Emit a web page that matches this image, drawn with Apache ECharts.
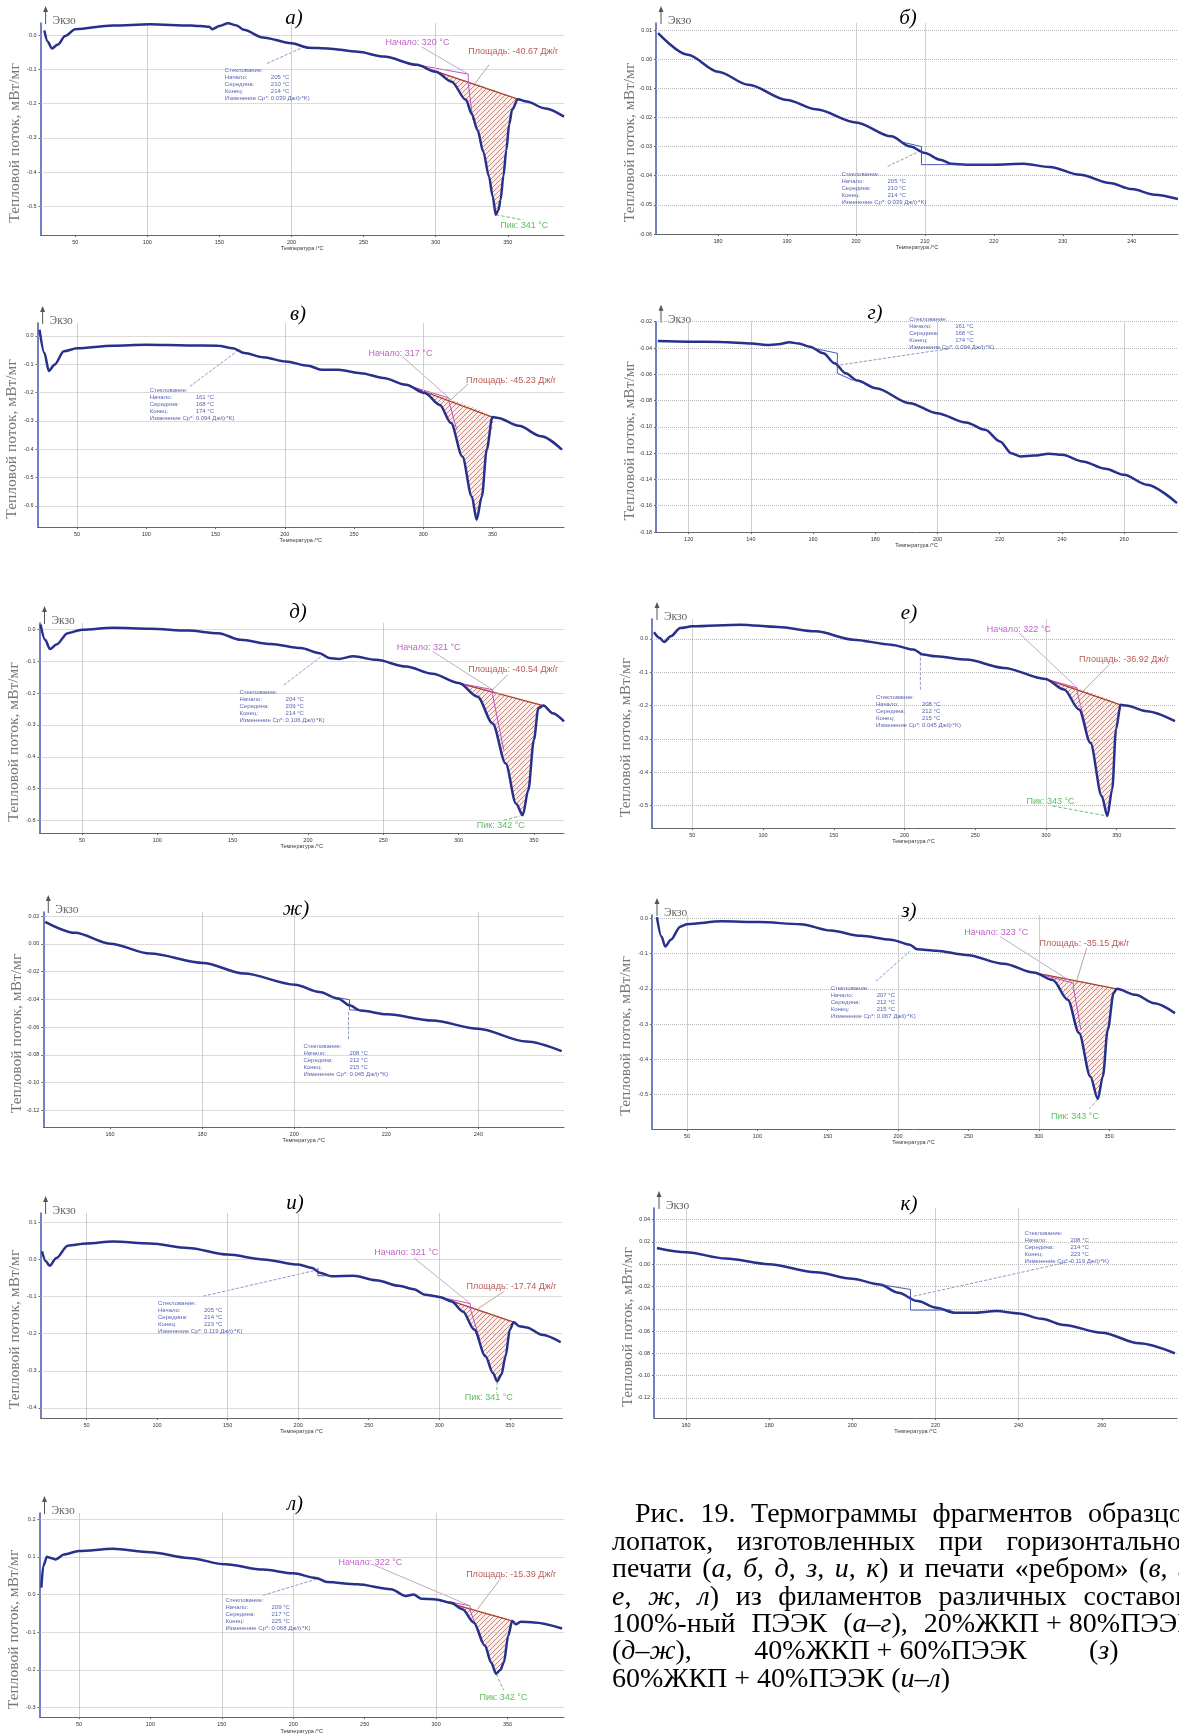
<!DOCTYPE html>
<html>
<head>
<meta charset="utf-8">
<script src="https://cdn.jsdelivr.net/npm/echarts@6.0.0/dist/echarts.min.js"></script>
<style>
html, body { margin: 0; padding: 0; background: #fff; }
#chart { width: 1179px; height: 1735px; }
</style>
</head>
<body>
<div id="chart"></div>
<script>
// ---- curves: temperature (°C) and heat flow (mW/mg) ----
const tA = [28.6, 31, 33.8, 38, 43, 50, 76, 102, 130, 143, 145, 150, 156, 162, 167, 180, 200, 212, 225, 246, 264, 287, 300, 311, 321, 325, 329, 333, 337, 339.5, 341.7, 343.5, 345, 347, 349, 351, 353, 357, 363, 376, 389];
const hA = [0.013, -0.02, -0.039, -0.028, -0.003, 0.017, 0.028, 0.031, 0.028, 0.024, 0.017, 0.026, 0.034, 0.028, 0.015, -0.007, -0.024, -0.037, -0.039, -0.049, -0.063, -0.087, -0.107, -0.136, -0.189, -0.23, -0.277, -0.34, -0.413, -0.47, -0.524, -0.51, -0.481, -0.41, -0.335, -0.26, -0.218, -0.187, -0.194, -0.214, -0.238];

const tB = [171.3, 175.6, 180, 184.4, 190, 194.2, 200, 205.1, 207.9, 210, 212.2, 213.8, 216, 220, 224.3, 228.1, 232.5, 236.8, 240, 243.3, 246.7];
const hB = [0.0089, 0.0015, -0.0043, -0.0088, -0.014, -0.0172, -0.0217, -0.0265, -0.030, -0.0322, -0.0345, -0.0359, -0.0362, -0.0362, -0.0359, -0.037, -0.0397, -0.0425, -0.0446, -0.0465, -0.048];

const tC = [22.9, 26.4, 29.6, 33.7, 40.5, 50, 75.8, 100, 130, 151.8, 162.6, 170.8, 184.4, 200.7, 216.9, 226.4, 238.7, 254.9, 271.2, 287.5, 301, 311.9, 320, 328.2, 335, 338.5, 342.3, 345.8, 349.9, 354, 368.9, 385.2, 400.1];
const hC = [0.021, -0.061, -0.124, -0.102, -0.055, -0.044, -0.035, -0.032, -0.034, -0.035, -0.044, -0.061, -0.076, -0.091, -0.106, -0.12, -0.12, -0.132, -0.149, -0.173, -0.202, -0.244, -0.308, -0.426, -0.567, -0.649, -0.567, -0.402, -0.287, -0.29, -0.318, -0.355, -0.402];

const tD = [110.1, 120, 130.6, 140.3, 145.1, 148.8, 152.4, 155.4, 159, 163.3, 166.9, 170.5, 174.2, 180.2, 191.1, 199.8, 209.2, 215.3, 220.1, 223.7, 226.8, 231, 235.8, 240.1, 246.7, 254, 260, 267.3, 277];
const hD = [-0.0347, -0.0352, -0.0354, -0.0365, -0.0377, -0.0372, -0.0357, -0.0365, -0.039, -0.044, -0.0516, -0.0592, -0.0648, -0.0706, -0.082, -0.0896, -0.0967, -0.1023, -0.1111, -0.12, -0.1225, -0.1218, -0.1205, -0.1213, -0.1263, -0.1319, -0.1365, -0.144, -0.158];

const tE = [22.5, 25.5, 28.8, 33, 40.5, 50, 70.5, 95.4, 120.4, 140.4, 155.3, 175.3, 195.3, 207.8, 214, 220.2, 230.2, 245.2, 265.2, 282.7, 300.2, 312.6, 322.6, 331.3, 338.1, 342.6, 346.3, 350, 353, 356.3, 362.5, 370];
const hE = [0.016, -0.032, -0.061, -0.047, -0.011, 0, 0.006, 0.003, -0.003, -0.011, -0.032, -0.045, -0.058, -0.074, -0.089, -0.092, -0.084, -0.095, -0.116, -0.139, -0.168, -0.211, -0.295, -0.421, -0.547, -0.584, -0.505, -0.347, -0.247, -0.239, -0.263, -0.289];

const tF = [22.9, 26.9, 30.1, 34.8, 41.5, 50, 84, 110.6, 137.2, 163.8, 190.4, 206.4, 213, 222.3, 243.6, 270.2, 299.5, 312.8, 323.4, 331.4, 339.4, 343.4, 346.8, 349.5, 352.7, 356.6, 371.3, 391.2];
const hF = [0.02, 0.003, -0.009, 0.008, 0.033, 0.038, 0.043, 0.036, 0.023, -0.002, -0.017, -0.032, -0.047, -0.052, -0.062, -0.087, -0.12, -0.152, -0.212, -0.312, -0.472, -0.532, -0.452, -0.272, -0.198, -0.2, -0.217, -0.247];

const tG = [145.9, 152.4, 160, 168.7, 180.2, 189.1, 200.2, 205.5, 209.6, 212, 214.4, 220.2, 230, 239.9, 250.4, 258.1];
const hG = [0.0159, 0.008, 0.0002, -0.007, -0.0137, -0.0214, -0.0294, -0.0347, -0.0395, -0.0443, -0.048, -0.0508, -0.0552, -0.0612, -0.0704, -0.0773];

const tH = [28.6, 31.8, 34.5, 38.5, 45.2, 50, 74.6, 101.3, 130.7, 152.1, 173.5, 194.9, 208.3, 213.6, 227, 248.4, 275.1, 296.5, 309.9, 320.6, 328.6, 336.6, 342, 345.5, 349, 353.2, 355.3, 368.7, 382.1, 396.8];
const hH = [0.003, -0.052, -0.08, -0.061, -0.024, -0.017, -0.009, -0.011, -0.017, -0.035, -0.05, -0.061, -0.075, -0.088, -0.092, -0.104, -0.129, -0.154, -0.175, -0.231, -0.325, -0.448, -0.512, -0.448, -0.316, -0.212, -0.2, -0.217, -0.241, -0.269];

const tI = [18.5, 21.2, 23.9, 28.7, 36.7, 50, 68.7, 95.3, 122, 150, 175.3, 200.1, 210, 215.3, 223.3, 239.3, 255.3, 271.3, 282, 290, 300.1, 308.7, 316.7, 324.7, 332.7, 338, 341, 344, 347, 350, 352.7, 356.7, 362, 372.7, 386];
const hI = [0.022, -0.005, -0.017, 0.004, 0.037, 0.043, 0.048, 0.043, 0.031, 0.013, 0, -0.014, -0.023, -0.036, -0.045, -0.044, -0.056, -0.071, -0.08, -0.095, -0.101, -0.113, -0.14, -0.189, -0.261, -0.306, -0.328, -0.31, -0.26, -0.189, -0.169, -0.18, -0.183, -0.203, -0.223];

const tJ = [153, 160, 169.5, 179.9, 191.2, 200, 206.6, 211.1, 215.7, 220.2, 224.7, 229.2, 234.7, 240.1, 245.5, 250.9, 260, 269, 277.6];
const hJ = [0.0146, 0.0107, 0.0051, 0, -0.0072, -0.0131, -0.0182, -0.0257, -0.0331, -0.0391, -0.0436, -0.0436, -0.0421, -0.0442, -0.049, -0.0546, -0.0615, -0.071, -0.08];

const tK = [23.7, 25, 27.6, 30.3, 33.7, 39.5, 50, 73.7, 100, 126.3, 152.6, 178.9, 200, 215.8, 223.7, 244.7, 268.4, 278.9, 284.2, 289.5, 300, 310.5, 318.4, 326.3, 334.2, 338.5, 342, 345, 347.4, 350.5, 353.2, 355.8, 359.2, 368.4, 388.2];
const hK = [0.018, 0.075, 0.1, 0.097, 0.093, 0.106, 0.115, 0.121, 0.112, 0.097, 0.08, 0.066, 0.056, 0.044, 0.033, 0.027, 0.014, -0.004, 0, -0.011, -0.013, -0.022, -0.039, -0.074, -0.136, -0.18, -0.21, -0.2, -0.18, -0.109, -0.07, -0.079, -0.072, -0.074, -0.09];

// ---- tick labels ----
const xt50 = [50, 100, 150, 200, 250, 300, 350];
const xtB = [180, 190, 200, 210, 220, 230, 240];
const xtG = [120, 140, 160, 180, 200, 220, 240, 260];
const xtZh = [160, 180, 200, 220, 240];
const xtK = [160, 180, 200, 220, 240, 260];
const yt5 = [0, -0.1, -0.2, -0.3, -0.4, -0.5];
const yt6 = [0, -0.1, -0.2, -0.3, -0.4, -0.5, -0.6];
const ytB = [0.01, 0, -0.01, -0.02, -0.03, -0.04, -0.05, -0.06];
const ytG = [-0.02, -0.04, -0.06, -0.08, -0.10, -0.12, -0.14, -0.16, -0.18];
const ytZh = [0.02, 0, -0.02, -0.04, -0.06, -0.08, -0.10, -0.12];
const ytI = [0.1, 0, -0.1, -0.2, -0.3, -0.4];
const ytK = [0.04, 0.02, 0, -0.02, -0.04, -0.06, -0.08, -0.10, -0.12];
const ytL = [0.2, 0.1, 0, -0.1, -0.2, -0.3];

// ---- glass transition readouts: onset, middle, end, ΔCp ----
const glassA = ['205', '210', '214', '0.039'];
const glassB = ['205', '210', '214', '0.039'];
const glassC = ['161', '168', '174', '0.094'];
const glassD = ['161', '168', '174', '0.094'];
const glassE = ['204', '209', '214', '0.106'];
const glassF = ['208', '212', '215', '0.045'];
const glassG = ['208', '212', '215', '0.045'];
const glassH = ['207', '212', '215', '0.067'];
const glassI = ['205', '214', '223', '0.119'];
const glassJ = ['208', '214', '223', '0.119'];
const glassK = ['209', '217', '225', '0.068'];

// ---- melting peak readouts: onset, area, peak ----
const onsetT = [320, null, 317, null, 321, 322, null, 323, 321, null, 322];
const areaJ = ['-40.67', null, '-45.23', null, '-40.54', '-36.92', null, '-35.15', '-17.74', null, '-15.39'];
const peakT = [341, null, null, null, 342, 343, null, 343, 341, null, 342];

// caption; words are split on ordinary spaces, non-breaking spaces keep "x + y" together
const caption = [
  'Рис. 19. Термограммы фрагментов образцов',
  'лопаток, изготовленных при горизонтальной',
  'печати (*а*, *б*, *д*, *з*, *и*, *к*) и печати «ребром» (*в*, *г*,',
  '*е*, *ж*, *л*) из филаментов различных составов:',
  '100%-ный ПЭЭК (*а–г*), 20%ЖКП\u00a0+\u00a080%ПЭЭК',
  '(*д–ж*), 40%ЖКП\u00a0+\u00a060%ПЭЭК (*з*) и',
  '60%ЖКП + 40%ПЭЭК (*и–л*)'
];

// ---- layout of the panels (pixel boxes, axis ranges, annotation anchors in data units) ----
const panels = [
  { t: tA, h: hA, box: [40.6, 23, 564, 235], x: [26, 389], y: [-0.583, 0.035], xt: xt50, yt: yt5, dec: 1, vg: [100, 200, 300], letter: 'а)', lp: [294, 18], glass: glassA,
    gAt: [153.8, -0.092], gLead: [[183, -0.083], [209, -0.034]],
    area: [287, 357], onLine: [[287, -0.087], [322.6, -0.114], [322.6, -0.143], [325.9, -0.248]], onAt: [265.2, -0.022], onLead: [[290, -0.034], [322.6, -0.114]],
    arAt: [322.6, -0.049], arLead: [[337, -0.087], [327, -0.143]], pkAt: [344.8, -0.556], pkLead: [[341.7, -0.524], [360.5, -0.539]] },
  { t: tB, h: hB, box: [656, 23, 1178, 234], x: [171, 246.7], y: [-0.06, 0.0124], xt: xtB, yt: ytB, dec: 2, vg: [200, 210], letter: 'б)', lp: [908, 18], glass: glassB,
    gAt: [197.9, -0.0382], gLead: [[204.6, -0.0368], [209.5, -0.0313]], gMark: [[206.2, -0.0282], [209.5, -0.03], [209.5, -0.0362], [219.9, -0.0362]] },
  { t: tC, h: hC, box: [37.6, 323, 564, 527], x: [21.5, 401.6], y: [-0.675, 0.045], xt: xt50, yt: yt6, dec: 1, vg: [50, 200, 300], letter: 'в)', lp: [298, 314], glass: glassC,
    gAt: [102.4, -0.182], gLead: [[131.4, -0.179], [165.4, -0.055]],
    area: [287.5, 349.9], onLine: [[287.5, -0.173], [318.7, -0.22], [318.7, -0.235], [324.2, -0.332]], onAt: [260.4, -0.061], onLead: [[284.8, -0.073], [318.7, -0.22]],
    arAt: [330.9, -0.158], arLead: [[332.3, -0.17], [320, -0.226]] },
  { t: tD, h: hD, box: [656, 321.7, 1177, 532], x: [109.5, 277], y: [-0.18, -0.02], xt: xtG, yt: ytG, dec: 2, vg: [120, 140, 200, 260], letter: 'г)', lp: [875, 313], glass: glassD,
    gAt: [190.9, -0.0157], gLead: [[168.7, -0.0529], [204.4, -0.0403]], gMark: [[160.3, -0.0403], [167.8, -0.044], [167.8, -0.0592], [173, -0.0648]] },
  { t: tE, h: hE, box: [39.5, 623, 564, 833], x: [21.8, 370], y: [-0.64, 0.021], xt: xt50, yt: yt6, dec: 1, vg: [50, 250], letter: 'д)', lp: [298, 612], glass: glassE,
    gAt: [154.6, -0.186], gLead: [[184, -0.174], [210.3, -0.079]],
    area: [300.2, 356.3], onLine: [[300.2, -0.168], [322.6, -0.189], [322.6, -0.205], [330, -0.379]], onAt: [258.9, -0.055], onLead: [[282.7, -0.068], [322.6, -0.189]],
    arAt: [306.4, -0.126], arLead: [[332.6, -0.142], [321.3, -0.195]], pkAt: [312.1, -0.616], pkLead: [[342.6, -0.584], [330, -0.6]] },
  { t: tF, h: hF, box: [652, 619, 1175, 828], x: [21.5, 391.2], y: [-0.568, 0.06], xt: xt50, yt: yt5, dec: 1, vg: [50, 200, 300], letter: 'е)', lp: [909, 613], glass: glassF,
    gAt: [179.8, -0.165], gLead: [[211.2, -0.042], [211.2, -0.157]],
    area: [299.5, 352.7], onLine: [[299.5, -0.12], [322.1, -0.147], [322.1, -0.16], [328.7, -0.272]], onAt: [258.2, 0.028], onLead: [[280.9, 0.018], [322.1, -0.147]],
    arAt: [323.4, -0.062], arLead: [[344.7, -0.077], [326.1, -0.157]], pkAt: [286.2, -0.487], pkLead: [[304.8, -0.502], [343.4, -0.532]] },
  { t: tG, h: hG, box: [43.3, 912, 564, 1127], x: [145.5, 258.6], y: [-0.132, 0.023], xt: xtZh, yt: ytZh, dec: 2, vg: [180, 200, 240], letter: 'ж)', lp: [296, 909], glass: glassG,
    gAt: [202, -0.0716], gLead: [[211.8, -0.0492], [211.8, -0.0696]], gMark: [[207.9, -0.0378], [212, -0.0402], [212, -0.0475], [214.4, -0.048]] },
  { t: tH, h: hH, box: [652, 915, 1175, 1129], x: [25.1, 396.8], y: [-0.597, 0.009], xt: xt50, yt: yt5, dec: 1, vg: [50, 200, 300], letter: 'з)', lp: [909, 911], glass: glassH,
    gAt: [152.1, -0.189], gLead: [[184.2, -0.179], [208.3, -0.094]],
    area: [296.5, 355.3], onLine: [[296.5, -0.154], [324.6, -0.184], [324.6, -0.196], [330, -0.316]], onAt: [247.1, -0.041], onLead: [[272.5, -0.052], [324.6, -0.184]],
    arAt: [300.5, -0.073], arLead: [[334, -0.085], [326, -0.189]], pkAt: [308.6, -0.561], pkLead: [[342, -0.512], [336, -0.54]] },
  { t: tI, h: hI, box: [40.6, 1213, 562.5, 1418], x: [17.5, 387.3], y: [-0.427, 0.125], xt: xt50, yt: ytI, dec: 1, vg: [50, 150, 200, 300], letter: 'и)', lp: [295, 1203], glass: glassI,
    gAt: [100.7, -0.108], gLead: [[132.7, -0.099], [212.7, -0.029]], gMark: [[214, -0.023], [214, -0.044], [223.3, -0.044]],
    area: [300.1, 352.7], onLine: [[300.1, -0.101], [322, -0.119], [322, -0.133], [328.7, -0.216]], onAt: [254, 0.019], onLead: [[282, 0.004], [322, -0.119]],
    arAt: [319.3, -0.074], arLead: [[346, -0.086], [327.3, -0.133]], pkAt: [318, -0.373], pkLead: [[341, -0.328], [340.7, -0.36]] },
  { t: tJ, h: hJ, box: [654, 1208, 1177, 1418], x: [152.3, 278.1], y: [-0.138, 0.0504], xt: xtK, yt: ytK, dec: 2, vg: [160, 220, 240], letter: 'к)', lp: [909, 1204], glass: glassJ,
    gAt: [241.4, 0.0304], gLead: [[214.8, -0.0287], [252.8, 0.0027]], gMark: [[206.6, -0.0182], [214, -0.0227], [214, -0.0412], [223.8, -0.0412]] },
  { t: tK, h: hK, box: [39.5, 1513, 564, 1718], x: [22.4, 389.5], y: [-0.325, 0.216], xt: xt50, yt: ytL, dec: 1, vg: [50, 150, 200, 300], letter: 'л)', lp: [295, 1504], glass: glassK,
    gAt: [152.6, -0.007], gLead: [[178.9, -0.002], [215.8, 0.04]],
    area: [300, 353.2], onLine: [[300, -0.013], [323.7, -0.03], [323.7, -0.04], [331.6, -0.127]], onAt: [231.6, 0.084], onLead: [[255.3, 0.08], [323.7, -0.03]],
    arAt: [321, 0.053], arLead: [[344.7, 0.04], [328.9, -0.039]], pkAt: [330.3, -0.272], pkLead: [[342, -0.21], [347.4, -0.254]] }
];

const SANS = '"Liberation Sans", Arial, sans-serif';
const SERIF = '"Liberation Serif", "Times New Roman", serif';
const CURVE = '#27308a';

const chart = echarts.init(document.getElementById('chart'));

// hatch tile for the melting peak area
const hatch = document.createElement('canvas');
hatch.width = 5; hatch.height = 5;
(function () {
  const g = hatch.getContext('2d');
  g.fillStyle = 'rgba(245,205,195,0.35)';
  g.fillRect(0, 0, 5, 5);
  g.strokeStyle = 'rgba(175,70,60,0.9)';
  g.lineWidth = 0.7;
  g.beginPath();
  g.moveTo(-1, 6); g.lineTo(6, -1);
  g.moveTo(-1, 1); g.lineTo(1, -1);
  g.moveTo(4, 6); g.lineTo(6, 4);
  g.stroke();
})();

const grids = [], xAxes = [], yAxes = [], series = [], graphics = [];

function zip(t, h) { return t.map((x, i) => [x, h[i]]); }

function seg(i, data, color, width, type, z) {
  series.push({
    type: 'line', xAxisIndex: i, yAxisIndex: i, data: data, symbol: 'none', silent: true, clip: false,
    z: z || 4, lineStyle: { color: color, width: width, type: type || 'solid' }
  });
}

function note(i, at, text, color, size, vAlign, rich) {
  series.push({
    type: 'scatter', xAxisIndex: i, yAxisIndex: i, data: [at], symbolSize: 0, silent: true, z: 6, clip: false,
    label: {
      show: true, position: [0, 0], align: 'left', verticalAlign: vAlign || 'middle',
      formatter: text, color: color, fontSize: size, fontFamily: SANS, rich: rich
    }
  });
}

panels.forEach((p, i) => {
  const [l, t, r, b] = p.box;
  grids.push({ left: l, top: t, width: r - l, height: b - t });
  xAxes.push({
    type: 'value', gridIndex: i, min: p.x[0], max: p.x[1],
    name: 'Температура /°C', nameLocation: 'middle', nameGap: 10,
    nameTextStyle: { fontSize: 5.5, color: '#333', fontFamily: SANS },
    axisLine: { show: true, onZero: false, lineStyle: { color: '#666', width: 1 } },
    axisTick: { show: true, customValues: p.xt, length: 2, lineStyle: { color: '#666' } },
    axisLabel: { customValues: p.xt, fontSize: 5.5, color: '#333', margin: 4, fontFamily: SANS },
    splitLine: { show: false }
  });
  yAxes.push({
    type: 'value', gridIndex: i, min: p.y[0], max: p.y[1],
    axisLine: { show: true, onZero: false, lineStyle: { color: '#4454b4', width: 1.5 } },
    axisTick: { show: true, customValues: p.yt, length: 2, lineStyle: { color: '#666' } },
    axisLabel: { customValues: p.yt, fontSize: 5.5, color: '#333', margin: 4, fontFamily: SANS,
      formatter: v => v.toFixed(p.dec) },
    splitLine: { show: false }
  });

  // grid lines
  series.push({
    type: 'line', xAxisIndex: i, yAxisIndex: i, data: [], silent: true, z: 1,
    markLine: {
      silent: true, symbol: ['none', 'none'], animation: false, label: { show: false },
      data: p.vg.map(v => ({ xAxis: v, lineStyle: { color: '#cfcfcf', width: 1, type: 'solid' } }))
        .concat(p.yt.filter(v => v > p.y[0]).map(v => ({ yAxis: v, lineStyle: { color: '#b8b8b8', width: 1, type: 'dotted' } })))
    }
  });

  const curve = zip(p.t, p.h);

  // melting peak: hatched area, baseline, onset construction, labels
  if (p.area) {
    const pts = curve.filter(q => q[0] >= p.area[0] && q[0] <= p.area[1]);
    series.push({
      type: 'custom', xAxisIndex: i, yAxisIndex: i, data: [pts[0]], silent: true, z: 3,
      renderItem: (params, api) => ({
        type: 'polygon',
        shape: { points: pts.map(q => api.coord(q)), smooth: 0.2 },
        style: { fill: { image: hatch, repeat: 'repeat' }, stroke: null }
      })
    });
    seg(i, [pts[0], pts[pts.length - 1]], '#a8402e', 1.2, 'solid', 4);
    seg(i, p.onLine, '#c050c0', 1, 'solid', 4);
    seg(i, p.onLead, '#b890b8', 0.8, 'solid', 4);
    seg(i, p.arLead, '#a09080', 0.8, 'solid', 4);
    note(i, p.onAt, 'Начало: ' + onsetT[i] + ' °C', '#b038b8', 9);
    note(i, p.arAt, 'Площадь: ' + areaJ[i] + ' Дж/г', '#a8322a', 9);
    if (p.pkAt) {
      seg(i, p.pkLead, '#60b860', 0.9, 'dashed', 4);
      note(i, p.pkAt, 'Пик: ' + peakT[i] + ' °C', '#3aaa3a', 9);
    }
  }

  // glass transition readout
  if (p.gMark) seg(i, p.gMark, '#3848a8', 0.9, 'solid', 6);
  seg(i, p.gLead, '#7080b8', 0.8, 'dashed', 4);
  const g = p.glass;
  note(i, p.gAt,
    '{k|Стеклование:}\n{k|Начало:}{v|' + g[0] + ' °C}\n{k|Середина:}{v|' + g[1] + ' °C}\n{k|Конец:}{v|' + g[2] + ' °C}\n{k|Изменение Cp*:}{v|' + g[3] + ' Дж/(г*K)}',
    '#2c3a9c', 6, 'top',
    { k: { width: 46, fontSize: 6, color: '#2c3a9c', fontFamily: SANS, lineHeight: 7 },
      v: { fontSize: 6, color: '#2c3a9c', fontFamily: SANS, lineHeight: 7 } });

  // the thermogram itself
  series.push({
    type: 'line', xAxisIndex: i, yAxisIndex: i, data: curve, symbol: 'none', silent: true,
    smooth: 0.3, smoothMonotone: 'x', z: 5,
    lineStyle: { color: CURVE, width: 2.5 }
  });

  // panel letter, exo arrow, y title
  graphics.push({ type: 'text', x: p.lp[0], y: p.lp[1],
    style: { text: p.letter, font: 'italic 21px ' + SERIF, fill: '#000', align: 'center', verticalAlign: 'middle' } });
  graphics.push({ type: 'line', shape: { x1: l + 5, y1: t + 1, x2: l + 5, y2: t - 15 }, style: { stroke: '#555', lineWidth: 1 } });
  graphics.push({ type: 'polygon', shape: { points: [[l + 2.5, t - 11], [l + 5, t - 17], [l + 7.5, t - 11]] }, style: { fill: '#555' } });
  graphics.push({ type: 'text', x: l + 12, y: t - 2,
    style: { text: 'Экзо', font: '11.5px ' + SERIF, fill: '#666', align: 'left', verticalAlign: 'middle' } });
  graphics.push({ type: 'text', x: l - 26, y: (t + b) / 2 + 14, rotation: Math.PI / 2,
    style: { text: 'Тепловой поток, мВт/мг', font: '15.5px ' + SERIF, fill: '#777', align: 'center', verticalAlign: 'middle' } });
});

// caption, justified like the source page
const capX = 612, capIndentX = 635, capRight = 1196, capY0 = 1515, capDY = 27.4, capSize = 28;
const meas = document.createElement('canvas').getContext('2d');
function capFont(it) { return (it ? 'italic ' : '') + capSize + 'px ' + SERIF; }
caption.forEach((line, li) => {
  const words = line.split(' ').map(w => w.split('*').map((s, k) => ({ s: s, it: k % 2 === 1 })).filter(r => r.s));
  const widths = words.map(runs => runs.reduce((a, r) => { meas.font = capFont(r.it); return a + meas.measureText(r.s).width; }, 0));
  const x0 = li === 0 ? capIndentX : capX;
  const total = widths.reduce((a, c) => a + c, 0);
  const last = li === caption.length - 1;
  meas.font = capFont(false);
  const space = meas.measureText(' ').width;
  const gap = last ? space : Math.max(space, (capRight - x0 - total) / (words.length - 1));
  const y = capY0 + li * capDY;
  let x = x0;
  words.forEach((runs, wi) => {
    let rx = x;
    runs.forEach(r => {
      graphics.push({ type: 'text', x: rx, y: y,
        style: { text: r.s, font: capFont(r.it), fill: '#000', align: 'left', verticalAlign: 'middle' } });
      meas.font = capFont(r.it);
      rx += meas.measureText(r.s).width;
    });
    x += widths[wi] + gap;
  });
});

chart.setOption({
  animation: false,
  backgroundColor: '#fff',
  textStyle: { fontFamily: SANS },
  grid: grids,
  xAxis: xAxes,
  yAxis: yAxes,
  series: series,
  graphic: graphics
});
window.addEventListener('resize', function () { chart.resize(); });
</script>
</body>
</html>
